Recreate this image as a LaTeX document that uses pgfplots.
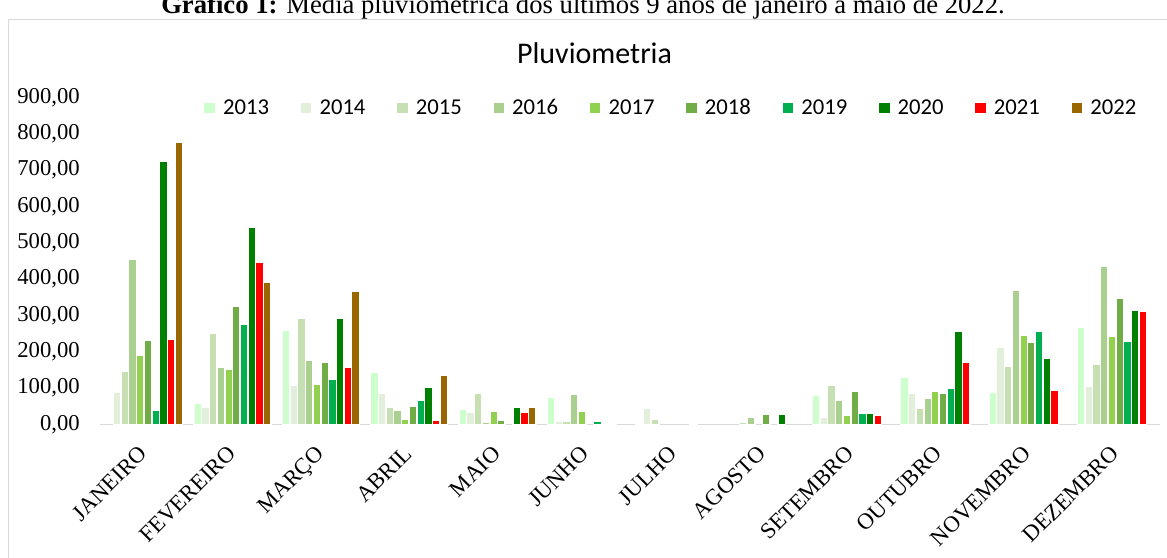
\documentclass[border=0pt]{standalone}
\usepackage{fontspec}
\setmainfont{Liberation Serif}
\newfontfamily\carlito{Carlito}
\usepackage{pgfplots}
\pgfplotsset{compat=1.18}
\definecolor{c13}{HTML}{CCFFCC}
\definecolor{c14}{HTML}{E2EFDA}
\definecolor{c15}{HTML}{C6E0B4}
\definecolor{c16}{HTML}{A9D08E}
\definecolor{c17}{HTML}{92D050}
\definecolor{c18}{HTML}{70AD47}
\definecolor{c19}{HTML}{00B050}
\definecolor{c20}{HTML}{008000}
\definecolor{c21}{HTML}{FF0000}
\definecolor{c22}{HTML}{996600}
\definecolor{axisgray}{HTML}{D9D9D9}
\begin{document}
\begin{tikzpicture}
\useasboundingbox (0,0) rectangle (875.25pt,417.75pt);
\clip (0,0) rectangle (875.25pt,417.75pt);
\fill[white] (0,0) rectangle (875.25pt,417.75pt);
\node[anchor=base, font=\fontsize{20}{24}\selectfont, inner sep=0pt] at (437.25pt,407.25pt) {\textbf{Gráfico 1:} Média pluviométrica dos últimos 9 anos de janeiro a maio de 2022.};
\draw[axisgray, line width=0.75pt] (6.4pt,-5pt) rectangle (880pt,402.75pt);
\node[anchor=base, font=\carlito\fontsize{22.5}{27}\selectfont, inner sep=0pt] at (445.9pt,370.3pt) {Pluviometria};
\begin{axis}[
  width=795pt, height=245.25pt, scale only axis,
  at={(75pt,99.5pt)}, anchor=south west,
  xmin=-0.5, xmax=11.5, ymin=0, ymax=900,
  axis x line*=bottom, axis y line*=left,
  x axis line style={draw=axisgray, line width=1.2pt, -},
  y axis line style={draw=none},
  major tick length=0pt,
  xtick={0,...,11},
  xticklabels={JANEIRO,FEVEREIRO,MARÇO,ABRIL,MAIO,JUNHO,JULHO,AGOSTO,SETEMBRO,OUTUBRO,NOVEMBRO,DEZEMBRO},
  ytick={0,100,...,900},
  ticklabel style={font=\fontsize{17}{20}\selectfont},
  yticklabel style={anchor=east, inner sep=0pt, xshift=-15pt},
  xticklabel style={rotate=45, anchor=north east, inner sep=0pt, xshift=-14pt, yshift=-7.2pt},
  /pgf/number format/fixed,
  /pgf/number format/fixed zerofill,
  /pgf/number format/precision=2,
  /pgf/number format/use comma,
  /pgf/number format/1000 sep={},
  /pgf/number format/assume math mode=true,
  ybar=0pt, bar width=0.0872,
  legend style={at={(0.0972,0.967)}, anchor=west, draw=none, fill=none,
    inner sep=0pt, outer sep=0pt,
    font=\carlito\fontsize{17}{20}\selectfont,
    nodes={inner sep=0pt},
    /tikz/every odd column/.append style={column sep=5pt},
    /tikz/every even column/.append style={column sep=22.7pt}},
  legend columns=10,
  legend image code/.code={\fill[#1] (0pt,-4.5pt) rectangle (9pt,4.5pt);},
]
\addplot[fill=c13, draw=white, line width=1.1pt] coordinates {(1,58) (2,260) (3,143) (4,42) (5,75) (6,4) (8,81) (9,130) (10,88) (11,268)};
\addplot[fill=c14, draw=white, line width=1.1pt] coordinates {(0,89) (1,47) (2,107) (3,85) (4,32) (5,8) (6,43) (8,20) (9,86) (10,211) (11,104)};
\addplot[fill=c15, draw=white, line width=1.1pt] coordinates {(0,145) (1,252) (2,291) (3,46) (4,85) (5,9) (6,13) (7,5) (8,108) (9,43) (10,161) (11,165)};
\addplot[fill=c16, draw=white, line width=1.1pt] coordinates {(0,455) (1,158) (2,176) (3,38) (4,5) (5,82) (7,20) (8,67) (9,72) (10,370) (11,436)};
\addplot[fill=c17, draw=white, line width=1.1pt] coordinates {(0,189) (1,152) (2,110) (3,13) (4,37) (5,35) (8,25) (9,92) (10,246) (11,243)};
\addplot[fill=c18, draw=white, line width=1.1pt] coordinates {(0,232) (1,324) (2,172) (3,49) (4,10) (7,28) (8,92) (9,86) (10,225) (11,348)};
\addplot[fill=c19, draw=white, line width=1.1pt] coordinates {(0,38) (1,275) (2,125) (3,65) (5,8) (8,31) (9,98) (10,256) (11,230)};
\addplot[fill=c20, draw=white, line width=1.1pt] coordinates {(0,725) (1,543) (2,291) (3,101) (4,46) (5,2) (6,1.5) (7,27) (8,31) (9,255) (10,182) (11,313)};
\addplot[fill=c21, draw=white, line width=1.1pt] coordinates {(0,234) (1,445) (2,158) (3,10) (4,34) (5,1) (8,25) (9,170) (10,94) (11,310)};
\addplot[fill=c22, draw=white, line width=1.1pt] coordinates {(0,777) (1,390) (2,367) (3,134) (4,46)};
\legend{2013,2014,2015,2016,2017,2018,2019,2020,2021,2022}
\end{axis}
\end{tikzpicture}
\end{document}
